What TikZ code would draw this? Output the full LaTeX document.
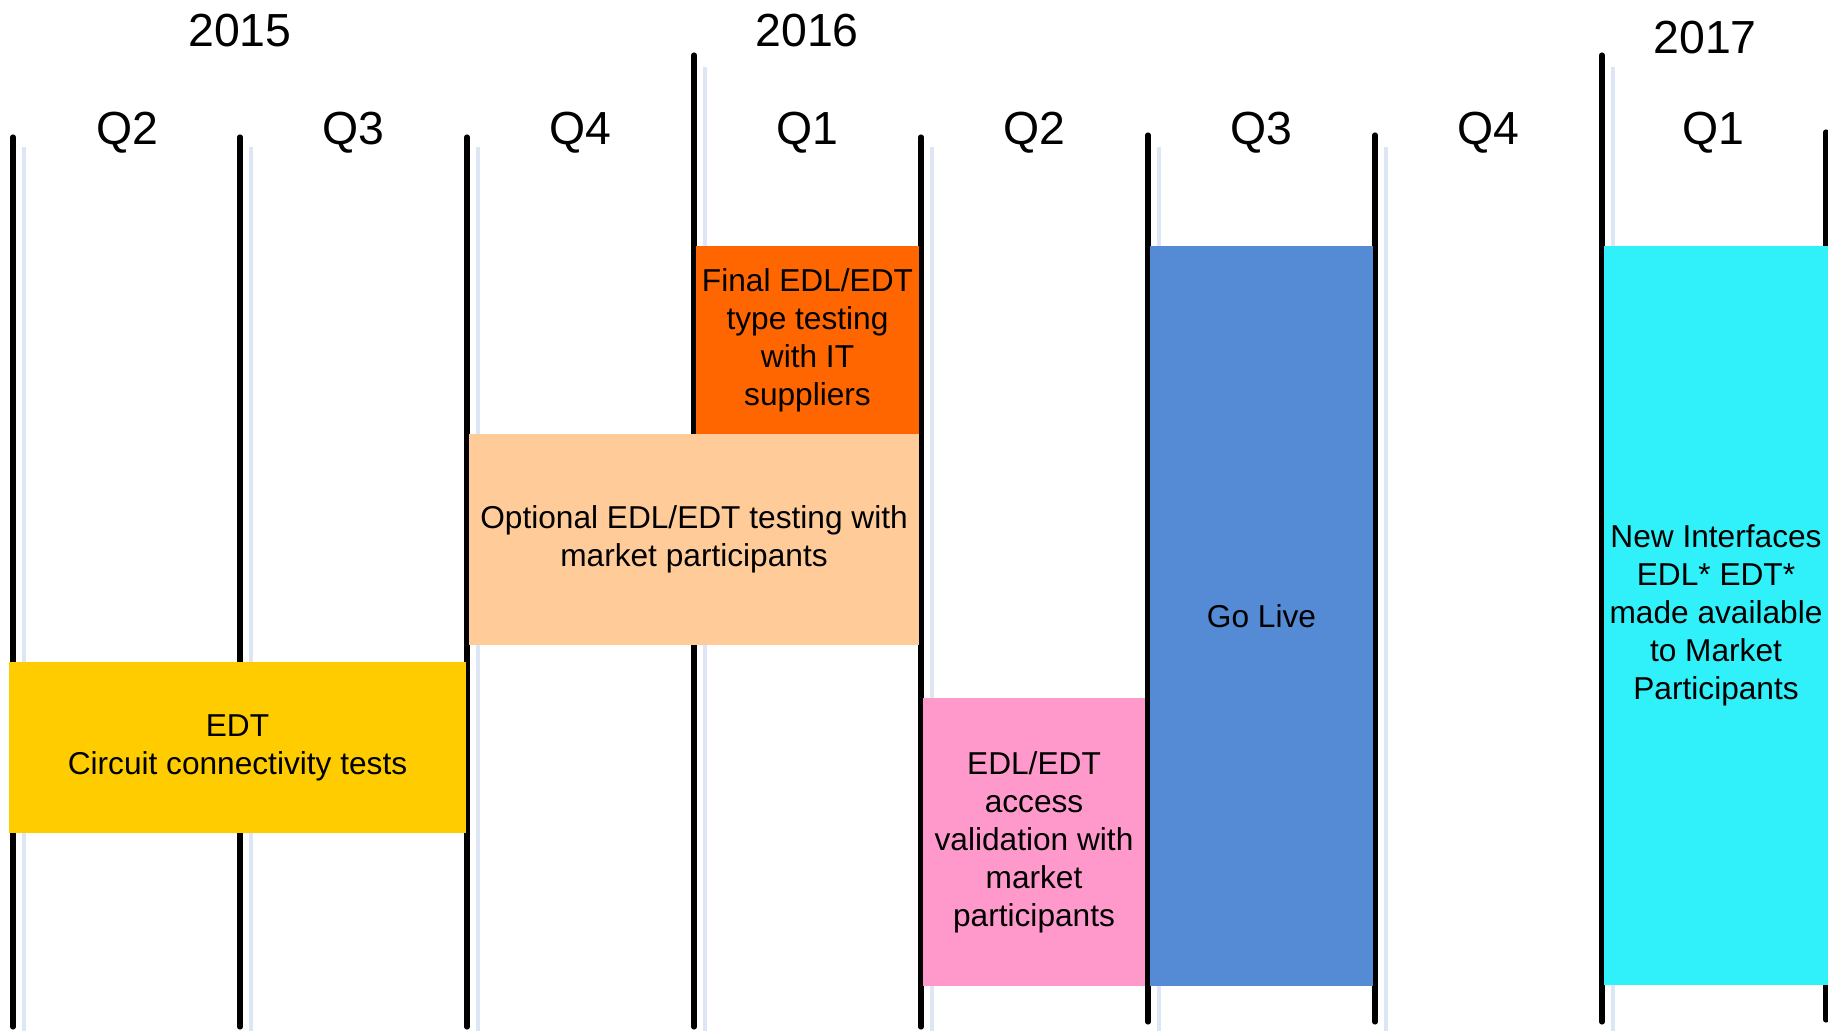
\documentclass[tikz,border=0pt]{standalone}
\usepackage{fontspec}
\setmainfont{Liberation Sans}
\definecolor{lineblue}{RGB}{220,230,244}
\definecolor{finalorange}{HTML}{FF6600}
\definecolor{optpeach}{HTML}{FFCC99}
\definecolor{edtyellow}{HTML}{FFCC00}
\definecolor{accesspink}{HTML}{FF99CC}
\definecolor{liveblue}{HTML}{558BD5}
\definecolor{newcyan}{HTML}{30F0FA}
\tikzset{
  qline/.style={line width=1.45pt, line cap=round},
  qshadow/.style={line width=1.1pt, lineblue},
  bar/.style={inner sep=0pt, outer sep=0pt, align=center,
    font=\fontsize{9}{10.8}\selectfont},
  yearlabel/.style={font=\fontsize{13.2}{15}\selectfont},
}
\begin{document}
\begin{tikzpicture}[x=0.01cm, y=-0.01cm]
  \useasboundingbox (0,0) rectangle (1828,1031);
  %% quarter lines with shadow
  \draw[qshadow] (24,147) -- (24,1031);
  \draw[qshadow] (251,147) -- (251,1031);
  \draw[qshadow] (478,147) -- (478,1031);
  \draw[qshadow] (705,67) -- (705,1031);
  \draw[qshadow] (932,147) -- (932,1031);
  \draw[qshadow] (1159,147) -- (1159,1031);
  \draw[qshadow] (1386,147) -- (1386,1031);
  \draw[qshadow] (1613,67) -- (1613,1031);
  \draw[qline] (13,137) -- (13,1027);
  \draw[qline] (240,137) -- (240,1027);
  \draw[qline] (467,137) -- (467,1027);
  \draw[qline] (694,55) -- (694,1027);
  \draw[qline] (921,137) -- (921,1027);
  \draw[qline] (1148,135) -- (1148,1022);
  \draw[qline] (1375,135) -- (1375,1022);
  \draw[qline] (1602,55) -- (1602,1022);
  \draw[qline] (1826,132) -- (1826,1020);
  %% years
  \node[yearlabel] (y2015) at (240,31) {2015};
  \node[yearlabel] (y2016) at (807,31) {2016};
  \node[yearlabel] (y2017) at (1705,38) {2017};
  %% quarters
  \node[yearlabel] (q2a) at (127,133) {Q2};
  \node[yearlabel] (q3a) at (353,133) {Q3};
  \node[yearlabel] (q4a) at (580,133) {Q4};
  \node[yearlabel] (q1b) at (807,133) {Q1};
  \node[yearlabel] (q2b) at (1034,133) {Q2};
  \node[yearlabel] (q3b) at (1261,133) {Q3};
  \node[yearlabel] (q4b) at (1488,133) {Q4};
  \node[yearlabel] (q1c) at (1713,133) {Q1};
  %% activity bars
  \node[bar, fill=finalorange, minimum width=2.23cm, minimum height=1.88cm]
    (final) at (807.5,340) {Final EDL/EDT\\type testing\\with IT\\suppliers};
  \node[bar, fill=optpeach, minimum width=4.50cm, minimum height=2.11cm]
    (optional) at (694,539.5) {Optional EDL/EDT testing with\\market participants};
  \node[bar, fill=edtyellow, minimum width=4.57cm, minimum height=1.71cm]
    (circuit) at (237.5,747.5) {EDT\\Circuit connectivity tests};
  \node[bar, fill=accesspink, minimum width=2.22cm, minimum height=2.88cm]
    (access) at (1034,842) {EDL/EDT\\access\\validation with\\market\\participants};
  \node[bar, fill=liveblue, minimum width=2.23cm, minimum height=7.40cm]
    (golive) at (1261.5,616) {Go Live};
  \node[bar, fill=newcyan, minimum width=2.24cm, minimum height=7.39cm]
    (newif) at (1716,615.5) {New Interfaces\\EDL* EDT*\\made available\\to Market\\Participants};
\end{tikzpicture}
\end{document}
